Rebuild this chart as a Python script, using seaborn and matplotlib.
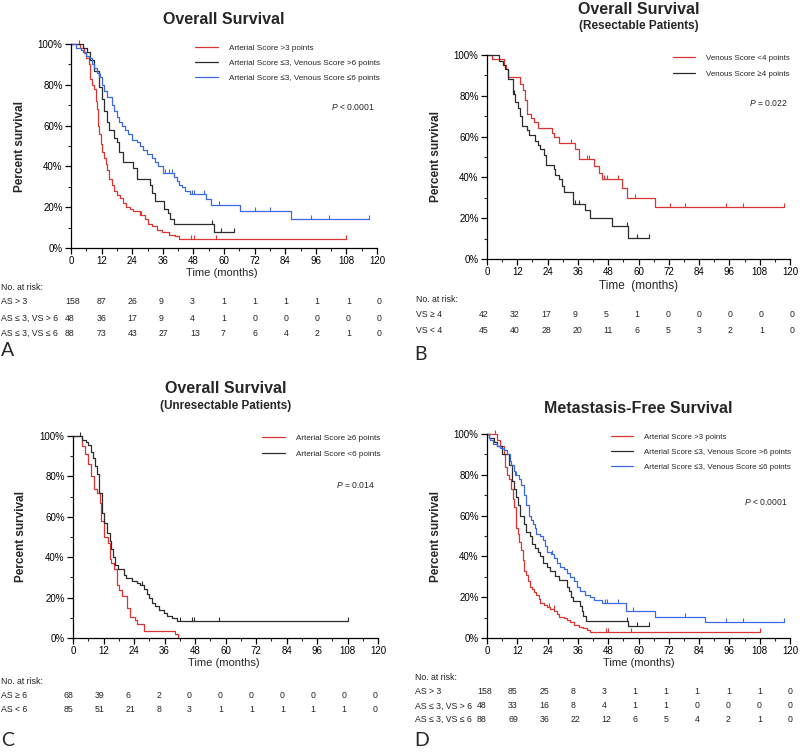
import seaborn as sns
import matplotlib.pyplot as plt
from matplotlib.ticker import MultipleLocator, FuncFormatter
import pandas as pd
import numpy as np

W, H = 800, 753
RED = '#dc3430'
BLACK = '#2b2b2b'
BLUE = '#3b68e4'

## A. Overall survival, all patients
a_red_t = [0, 3.5, 5.2, 5.8, 7.1, 7.5, 8.1, 9.2, 9.7, 10.3, 10.7, 11.1, 11.6, 12.3, 13.1, 13.6, 14.2, 14.9,
           16, 17, 17.9, 19.2, 20.5, 21.4, 23.1, 24.4, 27, 29, 30.3, 31.9, 33.6, 35.5, 38.3, 40.8, 42.4, 108]
a_red_s = [100, 98, 95.6, 93, 90, 83, 80, 78, 72, 68, 60, 56, 51, 47, 44, 41, 38, 34,
           31, 28, 26, 24.5, 22, 20, 19, 18, 16, 14, 12, 11, 9, 8, 6.5, 5.7, 4.4, 4.4]
a_red_c = [3, 27.5, 47, 48.2, 57, 108]

a_blk_t = [0, 4.8, 6.4, 7.5, 9.2, 11, 12, 13.1, 14, 15, 16.9, 17.9, 18.8, 20.3, 24.2, 25.8, 30.8, 31.7,
           33, 36.3, 38.2, 38.9, 40.2, 55.9, 64]
a_blk_s = [100, 98, 96, 92, 87, 79, 73, 67, 62, 58, 54, 52, 47, 42, 39, 34, 31, 27,
           23, 19, 17, 14, 12, 8, 8]
a_blk_c = [55.3, 59, 64]

a_blu_t = [0, 2, 3.9, 4.8, 5.9, 7.2, 8.1, 9.2, 10.1, 11, 12, 13, 14.3, 16, 16.9, 17.9, 18.8, 19.9, 21.2,
           22.5, 23.8, 25.8, 27.1, 28.4, 29.7, 31.7, 33, 34.3, 36, 40.4, 41.5, 42.5, 43.5, 44.8, 46.5,
           52.9, 54.8, 66.1, 86.3, 117]
a_blu_s = [100, 98, 97, 96, 94, 93, 90, 88, 86, 84, 80, 77, 74, 70, 67, 64, 62, 60, 58,
           56, 53, 52, 50, 48, 46, 44, 42, 40, 37, 35, 33, 31, 30, 28, 26.5,
           24, 21, 18, 14, 14]
a_blu_c = [11.4, 37, 38.5, 39.8, 47.3, 48.2, 52, 58, 72, 78, 94, 101, 117]

a_risk_labels = ['AS > 3', 'AS \u2264 3, VS > 6', 'AS \u2264 3, VS \u2264 6']
a_risk = [[158, 87, 26, 9, 3, 1, 1, 1, 1, 1, 0],
          [48, 36, 17, 9, 4, 1, 0, 0, 0, 0, 0],
          [88, 73, 43, 27, 13, 7, 6, 4, 2, 1, 0]]

## B. Overall survival, resectable
b_red_t = [0, 2, 6.6, 7.6, 8.4, 13.2, 14.2, 15.2, 15.8, 17.5, 18.5, 20, 25.7, 26.6, 28.7, 34.9, 36.3,
           42.2, 44.2, 45.5, 53.4, 55.4, 66.6, 117.6]
b_red_s = [100, 98, 95, 93, 89, 86, 83, 78, 71, 69, 67, 64, 62, 60, 57, 54, 49,
           45.7, 42, 39, 35, 30, 25.5, 25.5]
b_red_c = [33.2, 39.5, 40.2, 46.4, 47.5, 52, 58.7, 72.3, 78.5, 94.5, 101.5, 117.6]

b_blk_t = [0, 4.9, 6.2, 7.3, 8.3, 10.2, 11.2, 12.1, 13.2, 13.9, 15.8, 16.5, 19.1, 20, 21.1, 22.4, 23.3,
           26.4, 27, 28.4, 29.7, 30.6, 33.9, 38.9, 40.9, 49.5, 56, 64]
b_blk_s = [100, 97, 95, 93, 88, 81, 77, 74, 70, 65, 63, 61, 58, 56, 54, 51, 46,
           44, 41, 39, 36, 33, 27, 24, 20, 16, 10.5, 10.5]
b_blk_c = [10.8, 35, 36.5, 55.4, 59.3, 64]

b_risk_labels = ['VS \u2265 4', 'VS < 4']
b_risk = [[42, 32, 17, 9, 5, 1, 0, 0, 0, 0, 0],
          [45, 40, 28, 20, 11, 6, 5, 3, 2, 1, 0]]

## C. Overall survival, unresectable
c_red_t = [0, 3.5, 4.9, 5.8, 7.1, 8.1, 9.4, 10.5, 11.1, 12.1, 13.6, 14.4, 15.1, 16, 17.3, 18.2, 19.3,
           21.2, 22.3, 24.3, 25.2, 27.8, 40, 41.2]
c_red_s = [100, 95, 91, 86, 80, 74, 72, 67, 58, 50, 47, 39, 37, 34, 26, 24, 21,
           15, 10.5, 9, 7, 3.5, 1.8, 0]

c_blk_t = [0, 3.5, 5, 6, 7.2, 7.8, 8.6, 9.4, 10.4, 11.4, 12.3, 13.4, 14.4, 15.1, 15.7, 16.7, 17.6,
           19.9, 21, 23.2, 25.2, 26.5, 28.1, 29.1, 30, 31.1, 32.4, 33.7, 35.7, 37, 39, 40.9, 108.2]
c_blk_s = [100, 98, 97, 95.5, 92, 89, 85, 81, 72, 62, 57, 52, 48, 44, 40, 36, 34,
           31, 29.5, 28, 27, 26, 24.5, 22, 20, 17.5, 16, 14, 12.5, 11, 10, 8.5, 8.5]
c_blk_c = [2.9, 27.1, 42.2, 46.8, 47.7, 57.3, 108.2]

c_risk_labels = ['AS \u2265 6', 'AS < 6']
c_risk = [[68, 39, 6, 2, 0, 0, 0, 0, 0, 0, 0],
          [85, 51, 21, 8, 3, 1, 1, 1, 1, 1, 0]]

## D. Metastasis-free survival
d_red_t = [0, 4, 5.3, 6.6, 7.3, 7.9, 8.8, 9.5, 10.2, 10.8, 11.5, 12.1, 12.5, 13.5, 14.1, 14.8, 15.6,
           16.2, 16.9, 17.8, 18.5, 19.5, 20.4, 21.1, 22.4, 23.7, 25.1, 26.6, 27.7, 28.7, 30.3, 31.6,
           33, 34.3, 36.3, 38.2, 39.8, 40.9, 108]
d_red_s = [100, 97, 94, 90, 84, 80, 78, 73, 68, 64, 54, 51, 47, 43, 38, 33, 31,
           28, 25, 24, 22.5, 21, 19, 17, 16, 15, 14, 13, 12, 10.5, 10, 9,
           8, 6.5, 5.5, 5, 4, 3, 3]
d_red_c = [3.2, 24.4, 26.4, 47, 48, 57, 108]

d_blk_t = [0, 0.7, 2.6, 4, 6, 8.6, 9.9, 10.8, 11.5, 12.3, 13.2, 14.5, 15.6, 17.1, 18, 19.1, 20.2,
           21.1, 22.2, 23.7, 25, 26.8, 28.7, 31.6, 32.3, 33.2, 34, 36.9, 37.6, 38.2, 39.2, 56, 64]
d_blk_s = [100, 98, 96, 94, 90, 85, 77, 73, 69, 65, 60, 56, 52, 50, 46, 44, 42,
           40, 37, 35, 33, 30.5, 28.5, 25, 23, 20, 18, 15.5, 13, 11, 8.5, 6, 6]
d_blk_c = [55.4, 59.3, 64]

d_blu_t = [0, 0.7, 1.3, 2.4, 4, 5.3, 6.6, 7.9, 9, 9.6, 10.5, 11.2, 12.5, 13.5, 14.5, 15.6, 16.5, 17.4,
           18.2, 18.9, 19.5, 21.1, 22.2, 23.1, 23.7, 25.3, 26.4, 27.7, 29, 30.3, 31.6, 33, 34.3, 35.6,
           36.9, 38.9, 40.9, 42.2, 45.5, 55.1, 66.6, 86.4, 117.6]
d_blu_s = [100, 98, 97, 95, 94, 93, 92, 90, 87, 85, 82, 80, 78, 75, 70, 65, 60, 58,
           56, 54, 51, 50, 48, 45, 42, 41, 39, 37, 35, 34, 32, 30, 28, 25,
           23, 21, 20, 18.5, 17, 13, 10.5, 8, 8]
d_blu_c = [11.6, 25.7, 46.8, 47.7, 52, 58, 78.5, 94.5, 101.5, 117.6]

d_risk_labels = ['AS > 3', 'AS \u2264 3, VS > 6', 'AS \u2264 3, VS \u2264 6']
d_risk = [[158, 85, 25, 8, 3, 1, 1, 1, 1, 1, 0],
          [48, 33, 16, 8, 4, 1, 1, 0, 0, 0, 0],
          [88, 69, 36, 22, 12, 6, 5, 4, 2, 1, 0]]

x_ticks = list(range(0, 121, 12))

sns.set_style("ticks")
plt.rcParams['font.family'] = ['Liberation Sans', 'DejaVu Sans']
plt.rcParams['mathtext.fontset'] = 'custom'
plt.rcParams['mathtext.it'] = 'Liberation Sans:italic'
plt.rcParams['mathtext.rm'] = 'Liberation Sans'

fig = plt.figure(figsize=(W / 100, H / 100), dpi=100)


def fx(px):
    return px / W


def fy(py):
    return 1 - py / H


def make_axes(x0, x1, ytop, ybot):
    ax = fig.add_axes([fx(x0), fy(ybot), (x1 - x0) / W, (ybot - ytop) / H])
    ax.set_xlim(0, 120)
    ax.set_ylim(0, 100)
    ax.set_xticks(x_ticks)
    ax.xaxis.set_minor_locator(MultipleLocator(6))
    ax.set_yticks(range(0, 101, 20))
    ax.yaxis.set_minor_locator(MultipleLocator(10))
    ax.yaxis.set_major_formatter(FuncFormatter(lambda v, p: '%d%%' % v))
    ax.tick_params(which='major', length=4, width=0.9, labelsize=7, pad=2, colors='black')
    ax.tick_params(which='minor', length=2.2, width=0.8)
    for s in ['top', 'right']:
        ax.spines[s].set_visible(False)
    for s in ['left', 'bottom']:
        ax.spines[s].set_linewidth(0.9)
        ax.spines[s].set_color('black')
    ax.set_ylabel('Percent survival', fontsize=8.5, fontweight='bold')
    ax.set_xlabel('Time (months)', fontsize=8)
    return ax


def km(ax, t, s, cens, color, label):
    df = pd.DataFrame({'t': t, 's': s})
    sns.lineplot(data=df, x='t', y='s', drawstyle='steps-post', color=color, lw=0.9,
                 label=label, ax=ax, estimator=None, sort=False, clip_on=False)
    if cens:
        idx = np.searchsorted(np.array(t), np.array(cens), side='right') - 1
        cy = np.array(s)[idx]
        ax.plot(cens, cy, ls='none', marker=[(0, 0), (0, 1)], ms=6, mew=0.8,
                color=color, clip_on=False)


def legend(ax, x, ytop, spacing, size=5.9):
    ax.legend(loc='upper left', bbox_to_anchor=(fx(x), fy(ytop)), bbox_transform=fig.transFigure,
              frameon=False, fontsize=size, handlelength=2.8, handletextpad=1.35,
              labelspacing=spacing, borderpad=0, borderaxespad=0)


def risk_table(labels, rows, xlab, x0, dx, y_head, ys):
    fig.text(fx(xlab), fy(y_head), 'No. at risk:', fontsize=6.3, va='center', color='#222222')
    for lab, row, yy in zip(labels, rows, ys):
        fig.text(fx(xlab), fy(yy), lab, fontsize=6.3, va='center', color='#222222')
        for i, n in enumerate(row):
            fig.text(fx(x0 + i * dx), fy(yy), str(n), fontsize=6.3, va='center', color='#222222')


def title(xc, yc, text, size, weight='bold'):
    fig.text(fx(xc), fy(yc), text, fontsize=size, fontweight=weight, ha='center', va='center')


def pval(xr, yc, text):
    fig.text(fx(xr), fy(yc), r'$\it{P}$' + text, fontsize=6.2, ha='right', va='center')


def letter(x, yc, text):
    fig.text(fx(x), fy(yc), text, fontsize=14, family=['Lato', 'DejaVu Sans'], va='center')


# ---------- A
ax = make_axes(71, 377, 44, 248)
km(ax, a_red_t, a_red_s, a_red_c, RED, 'Arterial Score >3 points')
km(ax, a_blk_t, a_blk_s, a_blk_c, BLACK, 'Arterial Score \u22643, Venous Score >6 points')
km(ax, a_blu_t, a_blu_s, a_blu_c, BLUE, 'Arterial Score \u22643, Venous Score \u22646 points')
legend(ax, 195, 44.3, 0.9)
ax.yaxis.set_label_coords(-0.147, 0.5)
ax.xaxis.set_label_coords(0.494, -0.1)
title(224, 20, 'Overall Survival', 11.5)
pval(375, 107, ' < 0.0001')
risk_table(a_risk_labels, a_risk, 1, 65, 31.2, 287, [302, 318, 333])
letter(1, 350, 'A')

# ---------- B
ax = make_axes(487, 790, 55, 259)
km(ax, b_red_t, b_red_s, b_red_c, RED, 'Venous Score <4 points')
km(ax, b_blk_t, b_blk_s, b_blk_c, BLACK, 'Venous Score \u22654 points')
legend(ax, 673, 54.3, 1.12, size=5.7)
ax.set_xlabel('Time  (months)', fontsize=8.5)
ax.yaxis.set_label_coords(-0.15, 0.5)
ax.xaxis.set_label_coords(0.5, -0.105)
title(639, 9, 'Overall Survival', 11.5)
title(639, 25.5, '(Resectable Patients)', 8.5)
pval(788, 103, ' = 0.022')
risk_table(b_risk_labels, b_risk, 416, 479, 31.1, 299, [314, 330])
letter(414, 354, 'B')

# ---------- C
ax = make_axes(73, 378, 436, 638)
km(ax, c_red_t, c_red_s, [], RED, 'Arterial Score \u22656 points')
km(ax, c_blk_t, c_blk_s, c_blk_c, BLACK, 'Arterial Score <6 points')
legend(ax, 262, 434.3, 0.97)
ax.yaxis.set_label_coords(-0.152, 0.5)
ax.xaxis.set_label_coords(0.494, -0.1)
title(226, 388.5, 'Overall Survival', 11.5)
title(226, 405.5, '(Unresectable Patients)', 8.5)
pval(375, 485, ' = 0.014')
risk_table(c_risk_labels, c_risk, 1, 63.5, 30.9, 681, [695, 710])
letter(1, 741, 'C')

# ---------- D
ax = make_axes(487, 790, 434, 638)
km(ax, d_red_t, d_red_s, d_red_c, RED, 'Arterial Score >3 points')
km(ax, d_blk_t, d_blk_s, d_blk_c, BLACK, 'Arterial Score \u22643, Venous Score >6 points')
km(ax, d_blu_t, d_blu_s, d_blu_c, BLUE, 'Arterial Score \u22643, Venous Score \u22646 points')
legend(ax, 611, 433.3, 0.95, size=5.7)
ax.yaxis.set_label_coords(-0.15, 0.5)
ax.xaxis.set_label_coords(0.5, -0.1)
title(638.5, 409, 'Metastasis-Free Survival', 11.5)
pval(788, 502, ' < 0.0001')
risk_table(d_risk_labels, d_risk, 415, 477, 31.1, 677, [692, 706, 719])
letter(414, 741, 'D')

fig.savefig('out.png', dpi=100)
